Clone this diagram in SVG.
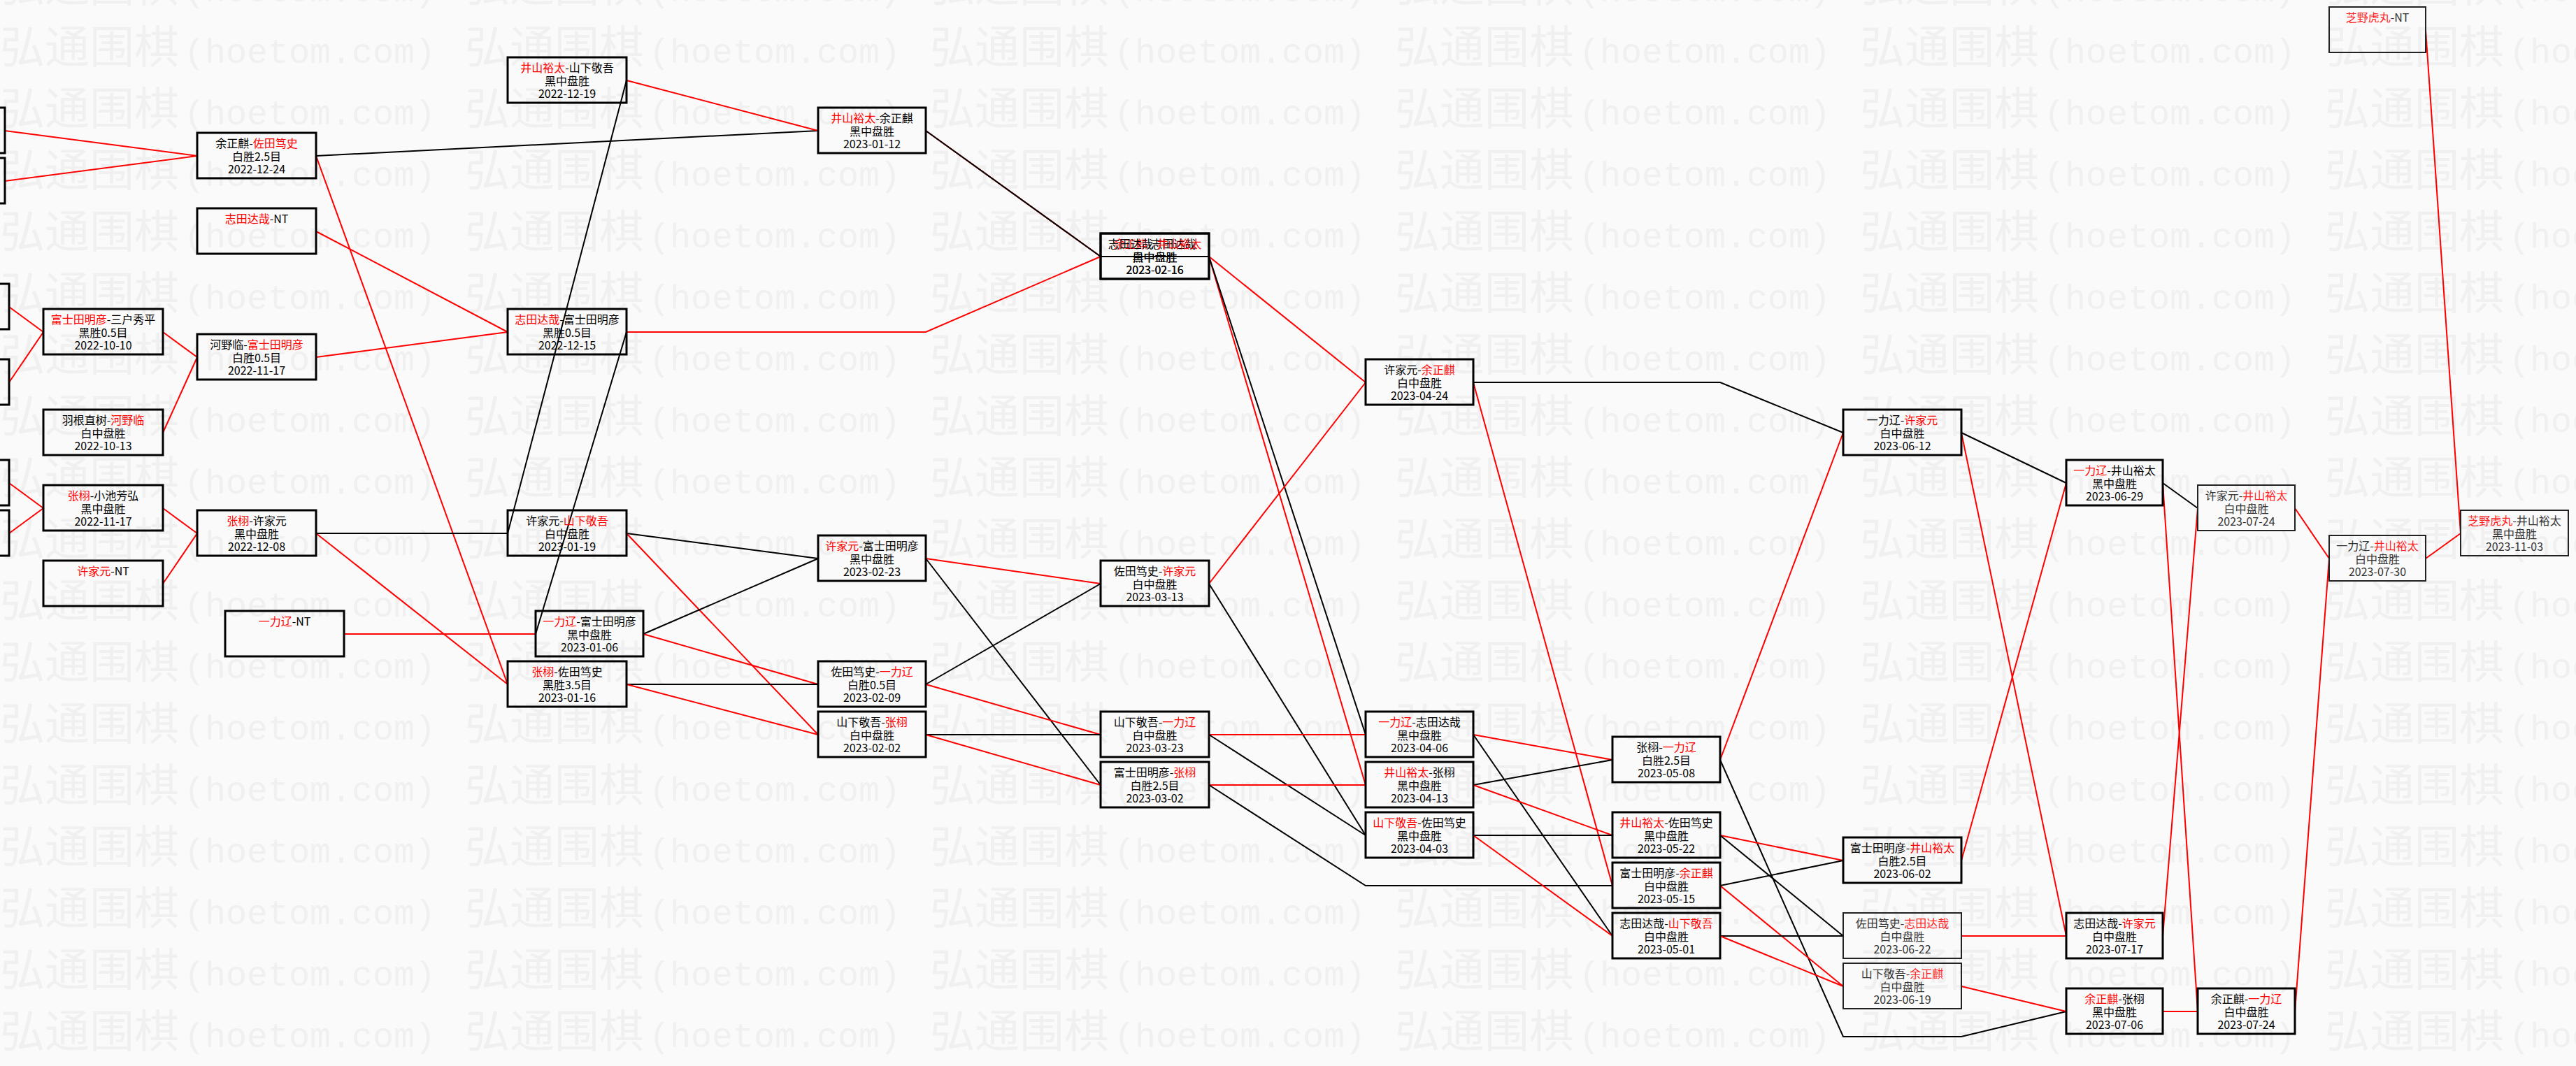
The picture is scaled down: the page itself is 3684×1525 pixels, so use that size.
<svg xmlns="http://www.w3.org/2000/svg" width="3684" height="1525" viewBox="0 0 3684 1525">
<style>
.b{fill:none;stroke:#000;stroke-width:3}
.bl{fill:none;stroke:#222;stroke-width:2}
text{font-family:"Noto Sans CJK SC",sans-serif;font-size:16px;text-anchor:middle;fill:#000}
.lt text{fill:#333}
.r{fill:#f00}
.lt .r{fill:#f22}
.e path{fill:none;stroke-width:2}
.er{stroke:#f00}
.ek{stroke:#000}
.wm{font-family:"Noto Sans CJK SC",sans-serif;font-size:64px;text-anchor:start;fill:#f0f0f0}
.wl{font-family:"Liberation Mono",monospace;font-size:50px}
</style>
<defs>
<pattern id="wm" patternUnits="userSpaceOnUse" x="0" y="20" width="665" height="88">
<text class="wm" x="0" y="70">弘通围棋<tspan class="wl" x="263">(hoetom.com)</tspan></text>
</pattern>
</defs>
<rect width="3684" height="1525" fill="#fafafa"/>
<rect width="3684" height="1525" fill="url(#wm)"/>

<g id="edges" class="e">
<path class="er" d="M7,187L282,223"/>
<path class="er" d="M7,259L282,223"/>
<path class="er" d="M13,439L62,475"/>
<path class="er" d="M13,547L62,475"/>
<path class="er" d="M13,691L62,727"/>
<path class="er" d="M13,763L62,727"/>
<path class="er" d="M233,475L282,511"/>
<path class="er" d="M233,619L282,511"/>
<path class="er" d="M233,727L282,763"/>
<path class="er" d="M233,835L282,763"/>
<path class="ek" d="M452,223L1170,187"/>
<path class="er" d="M452,223L726,979"/>
<path class="er" d="M452,331L726,475"/>
<path class="er" d="M452,511L726,475"/>
<path class="ek" d="M452,763L726,763"/>
<path class="er" d="M452,763L726,979"/>
<path class="er" d="M492,907L766,907"/>
<path class="er" d="M896,115L1170,187"/>
<path class="ek" d="M896,115L726,763"/>
<path class="er" d="M896,475L1324,475L1574,367"/>
<path class="ek" d="M896,475L766,907"/>
<path class="ek" d="M896,763L1170,799"/>
<path class="er" d="M896,763L1170,1051"/>
<path class="ek" d="M920,907L1170,799"/>
<path class="er" d="M920,907L1170,979"/>
<path class="ek" d="M896,979L1170,979"/>
<path class="er" d="M896,979L1170,1051"/>
<path class="er" d="M1324,187L1574,367"/>
<path class="ek" d="M1324,187L1574,367"/>
<path class="er" d="M1324,799L1574,835"/>
<path class="ek" d="M1324,799L1574,1123"/>
<path class="ek" d="M1324,979L1574,835"/>
<path class="er" d="M1324,979L1574,1051"/>
<path class="ek" d="M1324,1051L1574,1051"/>
<path class="er" d="M1324,1051L1574,1123"/>
<path class="ek" d="M1574,367L1729,367"/>
<path class="er" d="M1729,367L1953,547"/>
<path class="er" d="M1729,367L1953,1123"/>
<path class="ek" d="M1729,367L1953,1051"/>
<path class="er" d="M1729,835L1953,547"/>
<path class="ek" d="M1729,835L1953,1195"/>
<path class="er" d="M1729,1051L1953,1051"/>
<path class="ek" d="M1729,1051L1953,1195"/>
<path class="er" d="M1729,1123L1953,1123"/>
<path class="ek" d="M1729,1123L1953,1267L2306,1267"/>
<path class="ek" d="M2107,547L2460,547L2636,619"/>
<path class="er" d="M2107,547L2306,1267"/>
<path class="er" d="M2107,1051L2306,1087"/>
<path class="ek" d="M2107,1051L2306,1339"/>
<path class="ek" d="M2107,1123L2306,1087"/>
<path class="er" d="M2107,1123L2306,1195"/>
<path class="ek" d="M2107,1195L2306,1195"/>
<path class="er" d="M2107,1195L2306,1339"/>
<path class="er" d="M2460,1087L2636,619"/>
<path class="ek" d="M2460,1087L2636,1483L2805,1483L2955,1447"/>
<path class="er" d="M2460,1195L2636,1231"/>
<path class="ek" d="M2460,1195L2636,1339"/>
<path class="ek" d="M2460,1267L2636,1231"/>
<path class="er" d="M2460,1267L2636,1411"/>
<path class="ek" d="M2460,1339L2636,1339"/>
<path class="er" d="M2460,1339L2636,1411"/>
<path class="ek" d="M2805,619L2955,691"/>
<path class="er" d="M2805,619L2955,1339"/>
<path class="er" d="M2805,1231L2955,691"/>
<path class="er" d="M2805,1339L2955,1339"/>
<path class="er" d="M2805,1411L2955,1447"/>
<path class="ek" d="M3093,691L3143,727"/>
<path class="er" d="M3093,691L3143,1447"/>
<path class="er" d="M3093,1339L3143,727"/>
<path class="er" d="M3093,1447L3143,1447"/>
<path class="er" d="M3282,727L3331,799"/>
<path class="er" d="M3282,1447L3331,799"/>
<path class="er" d="M3469,43L3519,763"/>
<path class="er" d="M3469,799L3519,763"/>
</g>

<g id="a1"><rect class="b" x="-160" y="154" width="167" height="65"/></g>
<g id="a2"><rect class="b" x="-160" y="226" width="167" height="65"/></g>
<g id="a3"><rect class="b" x="-154" y="406" width="167" height="65"/></g>
<g id="a4"><rect class="b" x="-154" y="514" width="167" height="65"/></g>
<g id="a5"><rect class="b" x="-154" y="658" width="167" height="65"/></g>
<g id="a6"><rect class="b" x="-154" y="730" width="167" height="65"/></g>

<g id="b1"><rect class="b" x="62" y="442" width="171" height="65"/><text x="147.5" y="463"><tspan class="r">富士田明彦</tspan>-三户秀平</text><text x="147.5" y="482">黑胜0.5目</text><text x="147.5" y="500">2022-10-10</text></g>
<g id="b2"><rect class="b" x="62" y="586" width="171" height="65"/><text x="147.5" y="607">羽根直树-<tspan class="r">河野临</tspan></text><text x="147.5" y="626">白中盘胜</text><text x="147.5" y="644">2022-10-13</text></g>
<g id="b3"><rect class="b" x="62" y="694" width="171" height="65"/><text x="147.5" y="715"><tspan class="r">张栩</tspan>-小池芳弘</text><text x="147.5" y="734">黑中盘胜</text><text x="147.5" y="752">2022-11-17</text></g>
<g id="b4"><rect class="b" x="62" y="802" width="171" height="65"/><text x="147.5" y="823"><tspan class="r">许家元</tspan>-NT</text></g>

<g id="c1"><rect class="b" x="282" y="190" width="170" height="65"/><text x="367" y="211">余正麒-<tspan class="r">佐田笃史</tspan></text><text x="367" y="230">白胜2.5目</text><text x="367" y="248">2022-12-24</text></g>
<g id="c2"><rect class="b" x="282" y="298" width="170" height="65"/><text x="367" y="319"><tspan class="r">志田达哉</tspan>-NT</text></g>
<g id="c3"><rect class="b" x="282" y="478" width="170" height="65"/><text x="367" y="499">河野临-<tspan class="r">富士田明彦</tspan></text><text x="367" y="518">白胜0.5目</text><text x="367" y="536">2022-11-17</text></g>
<g id="c4"><rect class="b" x="282" y="730" width="170" height="65"/><text x="367" y="751"><tspan class="r">张栩</tspan>-许家元</text><text x="367" y="770">黑中盘胜</text><text x="367" y="788">2022-12-08</text></g>
<g id="c5"><rect class="b" x="322" y="874" width="170" height="65"/><text x="407" y="895"><tspan class="r">一力辽</tspan>-NT</text></g>

<g id="d1"><rect class="b" x="726" y="82" width="170" height="65"/><text x="811" y="103"><tspan class="r">井山裕太</tspan>-山下敬吾</text><text x="811" y="122">黑中盘胜</text><text x="811" y="140">2022-12-19</text></g>
<g id="d2"><rect class="b" x="726" y="442" width="170" height="65"/><text x="811" y="463"><tspan class="r">志田达哉</tspan>-富士田明彦</text><text x="811" y="482">黑胜0.5目</text><text x="811" y="500">2022-12-15</text></g>
<g id="d3"><rect class="b" x="726" y="730" width="170" height="65"/><text x="811" y="751">许家元-<tspan class="r">山下敬吾</tspan></text><text x="811" y="770">白中盘胜</text><text x="811" y="788">2023-01-19</text></g>
<g id="d4"><rect class="b" x="766" y="874" width="154" height="65"/><text x="843" y="895"><tspan class="r">一力辽</tspan>-富士田明彦</text><text x="843" y="914">黑中盘胜</text><text x="843" y="932">2023-01-06</text></g>
<g id="d5"><rect class="b" x="726" y="946" width="170" height="65"/><text x="811" y="967"><tspan class="r">张栩</tspan>-佐田笃史</text><text x="811" y="986">黑胜3.5目</text><text x="811" y="1004">2023-01-16</text></g>

<g id="e1"><rect class="b" x="1170" y="154" width="154" height="65"/><text x="1247" y="175"><tspan class="r">井山裕太</tspan>-余正麒</text><text x="1247" y="194">黑中盘胜</text><text x="1247" y="212">2023-01-12</text></g>
<g id="e2"><rect class="b" x="1170" y="766" width="154" height="65"/><text x="1247" y="787"><tspan class="r">许家元</tspan>-富士田明彦</text><text x="1247" y="806">黑中盘胜</text><text x="1247" y="824">2023-02-23</text></g>
<g id="e3"><rect class="b" x="1170" y="946" width="154" height="65"/><text x="1247" y="967">佐田笃史-<tspan class="r">一力辽</tspan></text><text x="1247" y="986">白胜0.5目</text><text x="1247" y="1004">2023-02-09</text></g>
<g id="e4"><rect class="b" x="1170" y="1018" width="154" height="65"/><text x="1247" y="1039">山下敬吾-<tspan class="r">张栩</tspan></text><text x="1247" y="1058">白中盘胜</text><text x="1247" y="1076">2023-02-02</text></g>

<g id="f1a"><rect class="b" x="1574" y="334" width="155" height="65"/><text x="1651.5" y="355"><tspan class="r">余正麒</tspan>-志田达哉</text><text x="1651.5" y="374">黑中盘胜</text><text x="1651.5" y="392">2023-02-16</text></g>
<g id="f1b"><rect class="b" x="1574" y="334" width="155" height="65"/><text x="1651.5" y="355">志田达哉-<tspan class="r">井山裕太</tspan></text><text x="1651.5" y="374">白中盘胜</text><text x="1651.5" y="392">2023-02-16</text></g>
<g id="f2"><rect class="b" x="1574" y="802" width="155" height="65"/><text x="1651.5" y="823">佐田笃史-<tspan class="r">许家元</tspan></text><text x="1651.5" y="842">白中盘胜</text><text x="1651.5" y="860">2023-03-13</text></g>
<g id="f3"><rect class="b" x="1574" y="1018" width="155" height="65"/><text x="1651.5" y="1039">山下敬吾-<tspan class="r">一力辽</tspan></text><text x="1651.5" y="1058">白中盘胜</text><text x="1651.5" y="1076">2023-03-23</text></g>
<g id="f4"><rect class="b" x="1574" y="1090" width="155" height="65"/><text x="1651.5" y="1111">富士田明彦-<tspan class="r">张栩</tspan></text><text x="1651.5" y="1130">白胜2.5目</text><text x="1651.5" y="1148">2023-03-02</text></g>

<g id="g1"><rect class="b" x="1953" y="514" width="154" height="65"/><text x="2030" y="535">许家元-<tspan class="r">余正麒</tspan></text><text x="2030" y="554">白中盘胜</text><text x="2030" y="572">2023-04-24</text></g>
<g id="g2"><rect class="b" x="1953" y="1018" width="154" height="65"/><text x="2030" y="1039"><tspan class="r">一力辽</tspan>-志田达哉</text><text x="2030" y="1058">黑中盘胜</text><text x="2030" y="1076">2023-04-06</text></g>
<g id="g3"><rect class="b" x="1953" y="1090" width="154" height="65"/><text x="2030" y="1111"><tspan class="r">井山裕太</tspan>-张栩</text><text x="2030" y="1130">黑中盘胜</text><text x="2030" y="1148">2023-04-13</text></g>
<g id="g4"><rect class="b" x="1953" y="1162" width="154" height="65"/><text x="2030" y="1183"><tspan class="r">山下敬吾</tspan>-佐田笃史</text><text x="2030" y="1202">黑中盘胜</text><text x="2030" y="1220">2023-04-03</text></g>

<g id="h1"><rect class="b" x="2306" y="1054" width="154" height="65"/><text x="2383" y="1075">张栩-<tspan class="r">一力辽</tspan></text><text x="2383" y="1094">白胜2.5目</text><text x="2383" y="1112">2023-05-08</text></g>
<g id="h2"><rect class="b" x="2306" y="1162" width="154" height="65"/><text x="2383" y="1183"><tspan class="r">井山裕太</tspan>-佐田笃史</text><text x="2383" y="1202">黑中盘胜</text><text x="2383" y="1220">2023-05-22</text></g>
<g id="h3"><rect class="b" x="2306" y="1234" width="154" height="65"/><text x="2383" y="1255">富士田明彦-<tspan class="r">余正麒</tspan></text><text x="2383" y="1274">白中盘胜</text><text x="2383" y="1292">2023-05-15</text></g>
<g id="h4"><rect class="b" x="2306" y="1306" width="154" height="65"/><text x="2383" y="1327">志田达哉-<tspan class="r">山下敬吾</tspan></text><text x="2383" y="1346">白中盘胜</text><text x="2383" y="1364">2023-05-01</text></g>

<g id="i1"><rect class="b" x="2636" y="586" width="169" height="65"/><text x="2720.5" y="607">一力辽-<tspan class="r">许家元</tspan></text><text x="2720.5" y="626">白中盘胜</text><text x="2720.5" y="644">2023-06-12</text></g>
<g id="i2"><rect class="b" x="2636" y="1198" width="169" height="65"/><text x="2720.5" y="1219">富士田明彦-<tspan class="r">井山裕太</tspan></text><text x="2720.5" y="1238">白胜2.5目</text><text x="2720.5" y="1256">2023-06-02</text></g>
<g id="i3" class="lt"><rect class="bl" x="2636" y="1306" width="169" height="65"/><text x="2720.5" y="1327">佐田笃史-<tspan class="r">志田达哉</tspan></text><text x="2720.5" y="1346">白中盘胜</text><text x="2720.5" y="1364">2023-06-22</text></g>
<g id="i4" class="lt"><rect class="bl" x="2636" y="1378" width="169" height="65"/><text x="2720.5" y="1399">山下敬吾-<tspan class="r">余正麒</tspan></text><text x="2720.5" y="1418">白中盘胜</text><text x="2720.5" y="1436">2023-06-19</text></g>

<g id="j1"><rect class="b" x="2955" y="658" width="138" height="65"/><text x="3024" y="679"><tspan class="r">一力辽</tspan>-井山裕太</text><text x="3024" y="698">黑中盘胜</text><text x="3024" y="716">2023-06-29</text></g>
<g id="j2"><rect class="b" x="2955" y="1306" width="138" height="65"/><text x="3024" y="1327">志田达哉-<tspan class="r">许家元</tspan></text><text x="3024" y="1346">白中盘胜</text><text x="3024" y="1364">2023-07-17</text></g>
<g id="j3"><rect class="b" x="2955" y="1414" width="138" height="65"/><text x="3024" y="1435"><tspan class="r">余正麒</tspan>-张栩</text><text x="3024" y="1454">黑中盘胜</text><text x="3024" y="1472">2023-07-06</text></g>

<g id="k1" class="lt"><rect class="bl" x="3143" y="694" width="139" height="65"/><text x="3212.5" y="715">许家元-<tspan class="r">井山裕太</tspan></text><text x="3212.5" y="734">白中盘胜</text><text x="3212.5" y="752">2023-07-24</text></g>
<g id="k2"><rect class="b" x="3143" y="1414" width="139" height="65"/><text x="3212.5" y="1435">余正麒-<tspan class="r">一力辽</tspan></text><text x="3212.5" y="1454">白中盘胜</text><text x="3212.5" y="1472">2023-07-24</text></g>

<g id="l1" class="lt"><rect class="bl" x="3331" y="10" width="138" height="65"/><text x="3400" y="31"><tspan class="r">芝野虎丸</tspan>-NT</text></g>
<g id="l2" class="lt"><rect class="bl" x="3331" y="766" width="138" height="65"/><text x="3400" y="787">一力辽-<tspan class="r">井山裕太</tspan></text><text x="3400" y="806">白中盘胜</text><text x="3400" y="824">2023-07-30</text></g>
<g id="m1" class="lt"><rect class="bl" x="3519" y="730" width="154" height="65"/><text x="3596" y="751"><tspan class="r">芝野虎丸</tspan>-井山裕太</text><text x="3596" y="770">黑中盘胜</text><text x="3596" y="788">2023-11-03</text></g>
</svg>
